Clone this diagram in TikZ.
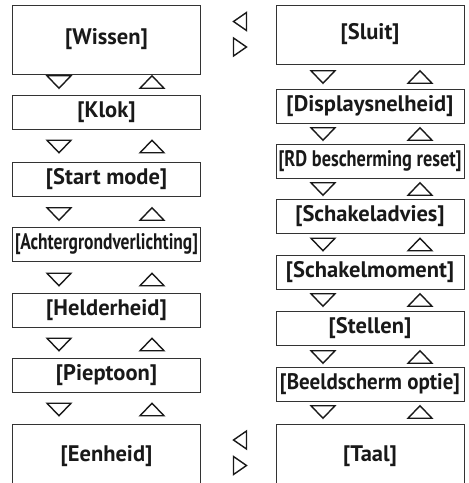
\documentclass[tikz,border=0pt]{standalone}
\usepackage{fontspec}
\setmainfont{PT Sans}
\usepackage{graphicx}

\tikzset{
  menubox/.style={draw=black!80, line width=0.9pt, minimum width=188, minimum height=34,
    inner sep=0pt, text=black!90},
  tri/.style={draw=black!90, line width=1.4pt},
  tridown/.pic={\draw[tri] (-12,-6.25) -- (12,-6.25) -- (0,6.25) -- cycle;},
  triup/.pic={\draw[tri] (-12,6.25) -- (12,6.25) -- (0,-6.25) -- cycle;},
  trileft/.pic={\draw[tri] (6.5,-9) -- (6.5,9) -- (-6.5,0) -- cycle;},
  triright/.pic={\draw[tri] (-6.5,-9) -- (-6.5,9) -- (6.5,0) -- cycle;},
}

\begin{document}
\begin{tikzpicture}[x=1pt, y=-1pt, font=\fontsize{22.5}{26}\selectfont\bfseries]
  \clip (0,0) rectangle (469,483);
  \fill[white] (0,0) rectangle (469,483);
  % linker kolom
  \node[menubox, minimum height=69] (wissen) at (106.5,39.5) {[Wissen]};
  \node[menubox] (klok)    at (106.5,112.5) {[Klok]};
  \node[menubox] (start)   at (106.5,179.5) {[Start mode]};
  \node[menubox] (achter)  at (106.5,244)   {\resizebox{183pt}{\height}{[Achtergrondverlichting]}};
  \node[menubox] (helder)  at (106.5,310)   {[Helderheid]};
  \node[menubox] (piep)    at (106.5,375)   {[Pieptoon]};
  \node[menubox, minimum height=64, anchor=north] (eenheid) at (106.5,424) {[Eenheid]};
  % rechter kolom
  \node[menubox, minimum height=59] (sluit) at (370,34.5) {[Sluit]};
  \node[menubox] (display) at (370,106.5) {[Displaysnelheid]};
  \node[menubox] (rd)      at (370,161.5) {\resizebox{183pt}{\height}{[RD bescherming reset]}};
  \node[menubox] (advies)  at (370,216.5) {[Schakeladvies]};
  \node[menubox] (moment)  at (370,272.5) {[Schakelmoment]};
  \node[menubox] (stellen) at (370,328.5) {[Stellen]};
  \node[menubox] (beeld)   at (370,384.5) {\resizebox{180pt}{\height}{[Beeldscherm optie]}};
  \node[menubox, minimum height=64, anchor=north] (taal) at (370,424) {[Taal]};
  % pijltjes omlaag / omhoog
  \foreach \y in {82,146.5,214,279.5,344.5,409.5} {
    \pic at (59,\y) {tridown};
    \pic at (152,\y) {triup};
  }
  \foreach \y in {77,134,189,244.5,300,357,412} {
    \pic at (323,\y) {tridown};
    \pic at (420,\y) {triup};
  }
  % pijltjes links / rechts
  \foreach \y in {21.5,440} {
    \pic at (240,\y) {trileft};
    \pic at (240,\y+25.5) {triright};
  }
\end{tikzpicture}
\end{document}
